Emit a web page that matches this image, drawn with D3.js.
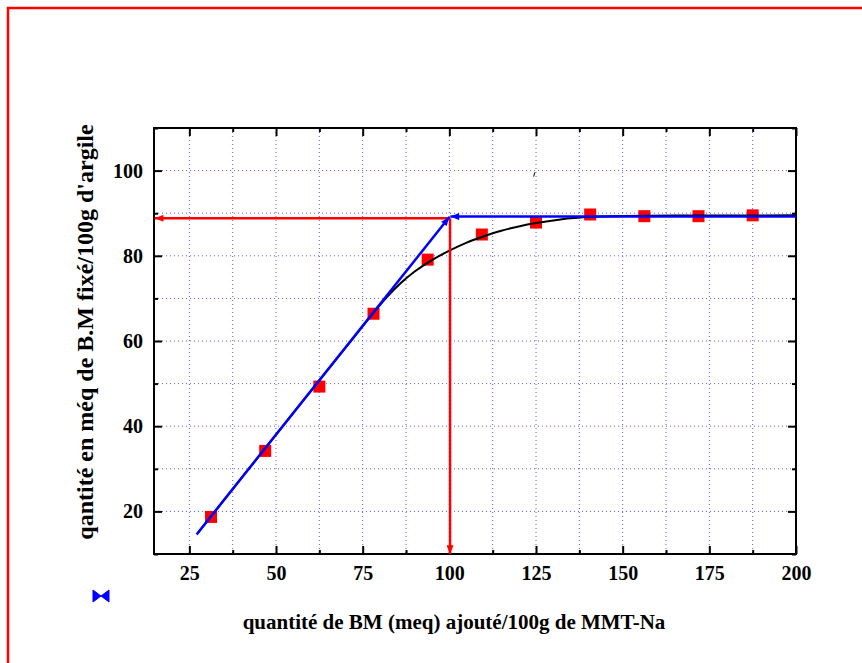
<!DOCTYPE html>
<html>
<head>
<meta charset="utf-8">
<script src="https://cdn.jsdelivr.net/npm/d3@7"></script>
<style>
  body { margin: 0; background: #fff; }
  svg text { font-family: "Liberation Serif", "Times New Roman", serif; font-weight: bold; }
</style>
</head>
<body>
<svg width="862" height="663"></svg>
<script>
// measured points (red squares)
const addedBM = [31.25, 46.875, 62.5, 78.125, 93.75, 109.375, 125, 140.625, 156.25, 171.875, 187.5];
const fixedBM = [18.7, 34.2, 49.3, 66.4, 79.1, 85.0, 87.8, 89.7, 89.3, 89.3, 89.5];

// fitted curve (black)
const fitX = [27.5, 35, 45, 55, 65, 72, 78, 82, 86, 90, 95, 100, 105, 110, 115, 120, 125, 130, 135, 140, 150, 165, 200];
const fitY = [15.0, 22.7, 32.9, 43.1, 53.3, 60.4, 66.5, 70.3, 73.6, 76.3, 79.0, 81.2, 83.1, 84.6, 85.9, 86.9, 87.7, 88.3, 88.8, 89.1, 89.35, 89.45, 89.5];

// tangent construction (blue) and reading lines (red)
const slopeLine = [[27.1, 14.6], [100, 89.1]];
const plateauLine = [[200, 89.2], [100.3, 89.2]];
const readH = [[100.2, 88.8], [15, 88.8]];
const readV = [[100.2, 88.8], [100.2, 10]];
const strayMark = [[124.3, 98.6], [124.7, 99.6]];

const xMajor = [25, 50, 75, 100, 125, 150, 175, 200];
const xMinor = [37.5, 62.5, 87.5, 112.5, 137.5, 162.5, 187.5];
const yMajor = [20, 40, 60, 80, 100];
const yMinor = [10, 30, 50, 70, 90, 110];

const svg = d3.select('svg');
const margin = { top: 128, right: 66, bottom: 109, left: 154 };
const width = 862, height = 663;
const innerWidth = width - margin.left - margin.right;
const innerHeight = height - margin.top - margin.bottom;

// outer red frame
svg.append('rect')
  .attr('x', 8).attr('y', 8)
  .attr('width', 900).attr('height', 700)
  .attr('fill', 'none').attr('stroke', '#ff0000').attr('stroke-width', 2.5);

const xScale = d3.scaleLinear().domain([14.8, 200]).range([0, innerWidth]);
const yScale = d3.scaleLinear().domain([10, 110]).range([innerHeight, 0]);

const g = svg.append('g').attr('transform', `translate(${margin.left},${margin.top})`);

// dotted grid
const grid = g.append('g').attr('stroke', '#5a5aff').attr('stroke-width', 1).attr('stroke-dasharray', '1,3');
grid.selectAll('.vg').data(xMajor.concat(xMinor).filter(v => v < 200)).enter().append('line')
  .attr('x1', d => xScale(d)).attr('x2', d => xScale(d))
  .attr('y1', 0).attr('y2', innerHeight);
grid.selectAll('.hg').data(yMajor.concat(yMinor).filter(v => v > 10 && v < 110)).enter().append('line')
  .attr('y1', d => yScale(d)).attr('y2', d => yScale(d))
  .attr('x1', 0).attr('x2', innerWidth);

// axes
const styleAxis = sel => {
  sel.selectAll('.domain').remove();
  sel.selectAll('line').attr('stroke', '#000').attr('stroke-width', 2);
  sel.selectAll('text').attr('font-size', 20).attr('fill', '#000');
};
const ticksOnly = sel => {
  styleAxis(sel);
  sel.selectAll('text').remove();
};

g.append('g').attr('transform', `translate(0,${innerHeight})`)
  .call(d3.axisBottom(xScale).tickValues(xMajor).tickSize(-8).tickPadding(12).tickFormat(d3.format('d')))
  .call(styleAxis);
g.append('g').attr('transform', `translate(0,${innerHeight})`)
  .call(d3.axisBottom(xScale).tickValues(xMinor).tickSize(-4))
  .call(ticksOnly);
g.append('g')
  .call(d3.axisTop(xScale).tickValues(xMajor).tickSize(-8))
  .call(ticksOnly);
g.append('g')
  .call(d3.axisTop(xScale).tickValues(xMinor).tickSize(-4))
  .call(ticksOnly);

g.append('g')
  .call(d3.axisLeft(yScale).tickValues(yMajor).tickSize(-8).tickPadding(11).tickFormat(d3.format('d')))
  .call(styleAxis);
g.append('g')
  .call(d3.axisLeft(yScale).tickValues(yMinor).tickSize(-4))
  .call(ticksOnly);
g.append('g').attr('transform', `translate(${innerWidth},0)`)
  .call(d3.axisRight(yScale).tickValues(yMajor).tickSize(-8))
  .call(ticksOnly);
g.append('g').attr('transform', `translate(${innerWidth},0)`)
  .call(d3.axisRight(yScale).tickValues(yMinor).tickSize(-4))
  .call(ticksOnly);

// plot frame
g.append('rect')
  .attr('width', innerWidth).attr('height', innerHeight)
  .attr('fill', 'none').attr('stroke', '#000').attr('stroke-width', 2);

// arrow markers
const defs = svg.append('defs');
[['arrowRed', '#ff0000'], ['arrowBlue', '#0000ff']].forEach(([id, c]) => {
  defs.append('marker')
    .attr('id', id)
    .attr('viewBox', '0 0 10 8')
    .attr('refX', 10).attr('refY', 4)
    .attr('markerWidth', 10).attr('markerHeight', 7)
    .attr('markerUnits', 'userSpaceOnUse')
    .attr('orient', 'auto')
    .append('path').attr('d', 'M0,0L10,4L0,8Z').attr('fill', c);
});

// data squares
g.selectAll('.pt').data(addedBM).enter().append('rect')
  .attr('x', (d, i) => xScale(d) - 6)
  .attr('y', (d, i) => yScale(fixedBM[i]) - 6)
  .attr('width', 12).attr('height', 12)
  .attr('fill', '#ff0000');

const line = d3.line().x(d => xScale(d[0])).y(d => yScale(d[1]));

// fitted curve
g.append('path')
  .datum(fitX.map((x, i) => [x, fitY[i]]))
  .attr('d', line.curve(d3.curveMonotoneX))
  .attr('fill', 'none').attr('stroke', '#000').attr('stroke-width', 2);
line.curve(d3.curveLinear);

g.append('path').datum(strayMark).attr('d', line)
  .attr('stroke', '#000').attr('stroke-width', 1);

// red reading lines
[readH, readV].forEach(seg => {
  g.append('path').datum(seg).attr('d', line)
    .attr('stroke', '#ff0000').attr('stroke-width', 2.5)
    .attr('marker-end', 'url(#arrowRed)');
});

// blue construction lines
[slopeLine, plateauLine].forEach(seg => {
  g.append('path').datum(seg).attr('d', line)
    .attr('stroke', '#0000ff').attr('stroke-width', 2.5)
    .attr('marker-end', 'url(#arrowBlue)');
});

// axis titles
svg.append('text')
  .attr('x', 454).attr('y', 629)
  .attr('text-anchor', 'middle').attr('font-size', 21)
  .text('quantité de BM (meq) ajouté/100g de MMT-Na');

svg.append('text')
  .attr('transform', 'translate(93,332) rotate(-90)')
  .attr('text-anchor', 'middle').attr('font-size', 24)
  .text("qantité en méq de B.M fixé/100g d'argile");

// legend symbol (bowtie)
svg.append('path')
  .attr('transform', 'translate(101,596)')
  .attr('d', 'M-8,-6L0,0L-8,6Z M8,-6L0,0L8,6Z')
  .attr('fill', '#0000ff').attr('stroke', '#0000ff').attr('stroke-width', 1);
</script>
</body>
</html>
